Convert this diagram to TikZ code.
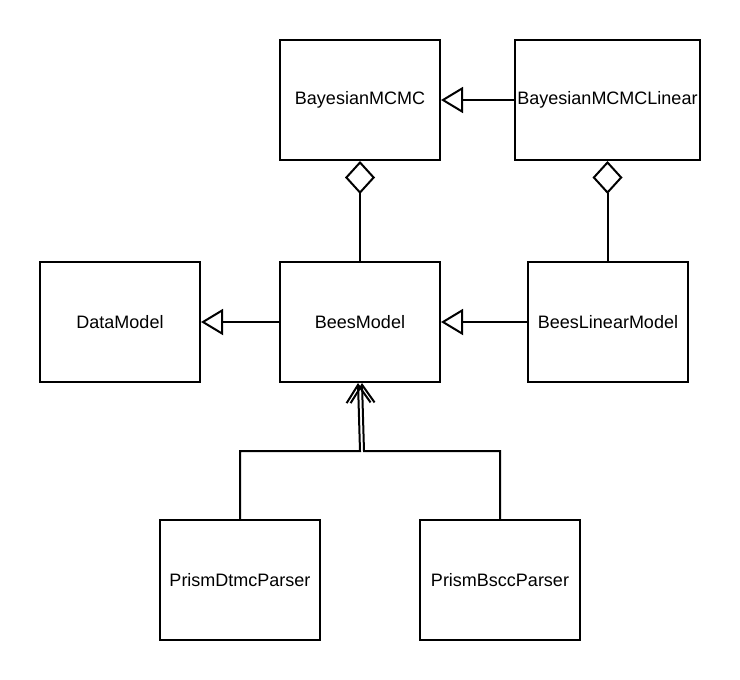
\documentclass[tikz,border=0pt]{standalone}
\usepackage{fontspec}
\setmainfont{Liberation Sans}
\usetikzlibrary{arrows.meta}

\begin{document}
\begin{tikzpicture}[x=1pt, y=-1pt, line width=2pt,
	klasse/.style={draw, rectangle, minimum width=160pt, minimum height=120pt, inner sep=0pt, font=\fontsize{18}{20}\selectfont},
	erbt/.style={-{Triangle[open, length=22pt, width=26pt, fill=white]}},
	teil/.style={{Diamond[open, length=33pt, width=30pt, fill=white]}-},
	nutzt/.style={-{Straight Barb[length=18pt, width=24pt]}}]
\useasboundingbox (0,0) rectangle (740,680);

% Klassen
\node[klasse] (mcmc) at (360,100) {BayesianMCMC};
\node[klasse, minimum width=185pt] (mcmclin) at (607.5,100) {BayesianMCMCLinear};
\node[klasse] (data) at (120,322) {DataModel};
\node[klasse] (bees) at (360,322) {BeesModel};
\node[klasse] (beeslin) at (608,322) {BeesLinearModel};
\node[klasse] (dtmc) at (240,580) {PrismDtmcParser};
\node[klasse] (bscc) at (500,580) {PrismBsccParser};

% Vererbung
\begin{scope}[erbt]
	\draw (mcmclin.west) -- (mcmc.east);
	\draw (bees.west) -- (data.east);
	\draw (beeslin.west) -- (bees.east);
\end{scope}

% Aggregation
\begin{scope}[teil]
	\draw (mcmc.south) -- (bees.north);
	\draw (mcmclin.south) -- (mcmclin.south |- beeslin.north);
\end{scope}

% Parser
\coordinate (knick) at (362,451);
\begin{scope}[nutzt]
	\draw (dtmc.north) |- ([xshift=-2pt]knick) -- ([xshift=-2pt]bees.south);
	\draw (bscc.north) |- ([xshift=2pt]knick) -- ([xshift=2pt]bees.south);
\end{scope}
\end{tikzpicture}
\end{document}
